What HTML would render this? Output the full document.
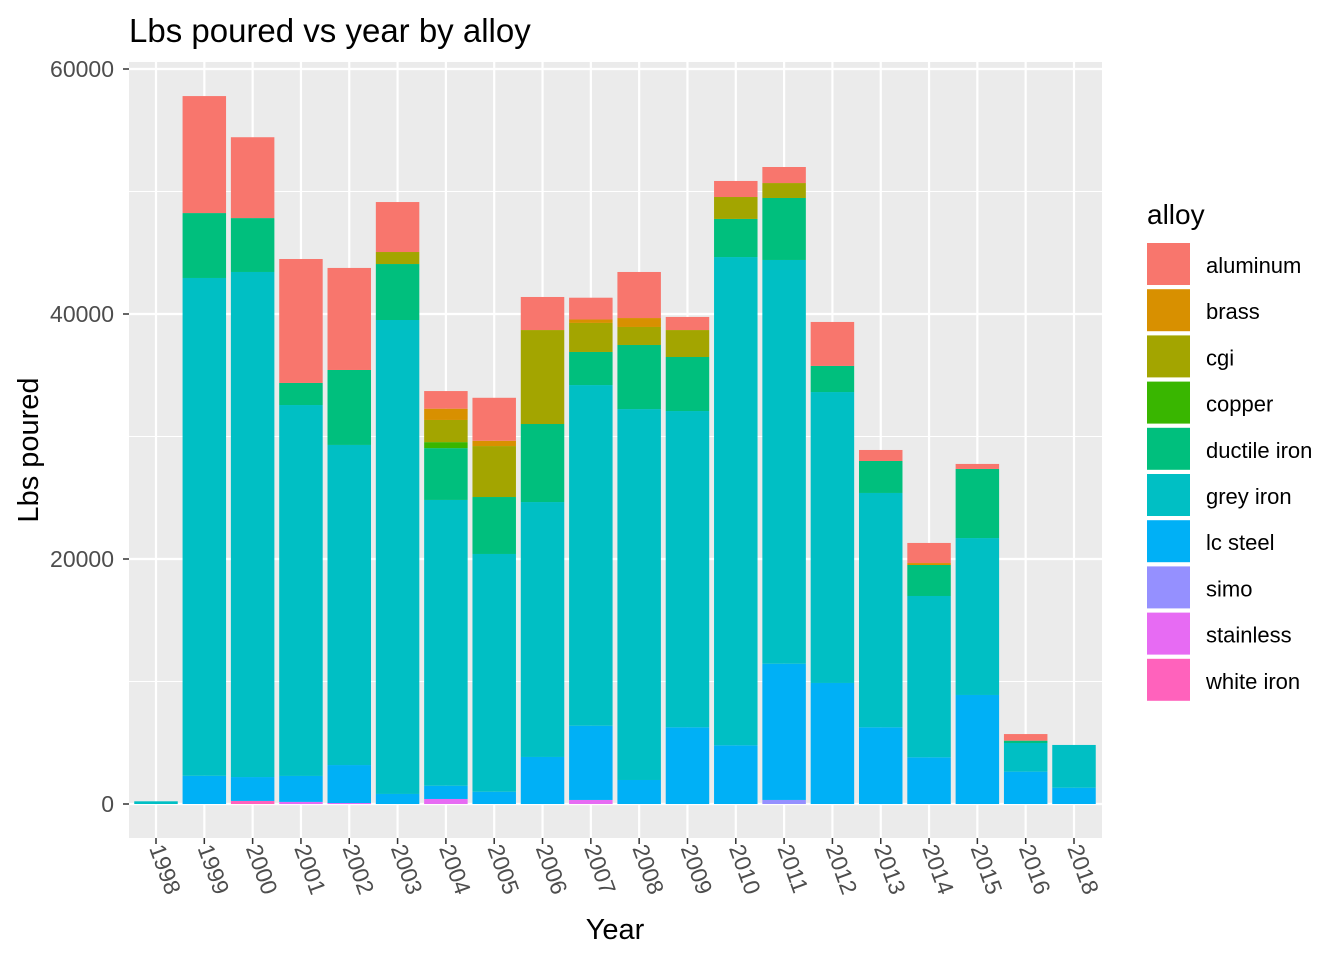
<!DOCTYPE html>
<html><head><meta charset="utf-8"><style>
html,body{margin:0;padding:0;background:#fff;}
svg{display:block;font-family:"Liberation Sans",Arial,sans-serif;}
</style></head><body>
<svg id="chart" width="1344" height="960"></svg>
<script>
const years = ["1998","1999","2000","2001","2002","2003","2004","2005","2006","2007","2008","2009","2010","2011","2012","2013","2014","2015","2016","2018"];
const alloys = ["aluminum","brass","cgi","copper","ductile iron","grey iron","lc steel","simo","stainless","white iron"];
const colors = ["#F8766D","#D89000","#A3A500","#39B600","#00BF7D","#00BFC4","#00B0F6","#9590FF","#E76BF3","#FF62BC"];
const aluminum   = [0,9550,6600,10120,8330,4080,1440,3510,2700,1780,3760,1070,1310,1310,3590,900,1640,410,540,0];
const brass      = [0,0,0,0,0,0,920,430,0,280,730,0,0,0,0,0,160,0,0,0];
const cgi        = [0,0,0,0,0,980,1810,4160,7670,2370,1470,2200,1790,1220,0,0,0,0,0,0];
const copper     = [0,0,0,0,0,0,490,0,0,0,0,0,0,0,0,0,0,0,0,0];
const ductile    = [0,5300,4400,1800,6120,4570,4230,4650,6370,2700,5230,4410,3110,5060,2130,2610,2530,5640,190,0];
const greyIron   = [220,40640,41230,30280,26130,38690,23330,19410,20810,27810,30280,25820,39860,32960,23750,19130,13170,12810,2340,3490];
const lcSteel    = [0,2300,1950,2120,3100,820,1080,1000,3840,6060,1960,6260,4790,11120,9880,6260,3810,8900,2640,1330];
const simo       = [0,0,0,0,0,0,0,0,0,0,0,0,0,330,0,0,0,0,0,0];
const stainless  = [0,0,0,170,80,0,410,0,0,330,0,0,0,0,0,0,0,0,0,0];
const whiteIron  = [0,0,250,0,0,0,0,0,0,0,0,0,0,0,0,0,0,0,0,0];
const yTicks = [0,20000,40000,60000];
const yMinor = [10000,30000,50000];

const series=[aluminum,brass,cgi,copper,ductile,greyIron,lcSteel,simo,stainless,whiteIron];
const NS="http://www.w3.org/2000/svg";
const svg=document.getElementById('chart');
const P={l:129,r:1102,t:62,b:838};
const y0=804, yPer=245/20000;
const yS=v=>y0-v*yPer;
const step=(1074-156)/(years.length-1);
const xS=i=>156+step*i;
const bw=step*0.9;
function el(t,a,txt){const e=document.createElementNS(NS,t);for(const k in a)e.setAttribute(k,a[k]);if(txt!==undefined)e.textContent=txt;svg.appendChild(e);return e;}

let e=el('rect',{x:P.l,y:P.t,width:P.r-P.l,height:P.b-P.t,fill:'#EBEBEB'});


yMinor.forEach(v=>{const g=el('line',{x1:P.l,x2:P.r,y1:yS(v),y2:yS(v),stroke:'#fff','stroke-width':1});

});
yTicks.forEach(v=>{const g=el('line',{x1:P.l,x2:P.r,y1:yS(v),y2:yS(v),stroke:'#fff','stroke-width':2.2});


const t=el('text',{x:114,y:yS(v)+8,'text-anchor':'end','font-size':23,fill:'#4D4D4D'},String(v));


const tk=el('line',{x1:123,x2:129,y1:yS(v),y2:yS(v),stroke:'#333','stroke-width':1.5});

});
years.forEach((yr,i)=>{const x=xS(i);
const g=el('line',{x1:x,x2:x,y1:P.t,y2:P.b,stroke:'#fff','stroke-width':2.2});


const tk=el('line',{x1:x,x2:x,y1:P.b,y2:P.b+6,stroke:'#333','stroke-width':1.5});


const t=el('text',{x:0,y:0,'font-size':23,fill:'#4D4D4D',transform:`translate(${x-7},${P.b+10}) rotate(70)`},yr);


let cum=0;
for(let s=series.length-1;s>=0;s--){const v=series[s][i];if(!v)continue;
const r=el('rect',{x:x-bw/2,y:yS(cum+v),width:bw,height:v*yPer,fill:colors[s]});


cum+=v;}
});
let t=el('text',{x:129,y:42,'font-size':33,fill:'#000'},'Lbs poured vs year by alloy');


t=el('text',{x:615,y:939,'text-anchor':'middle','font-size':29,fill:'#000'},'Year');


t=el('text',{x:0,y:0,'text-anchor':'middle','font-size':29,fill:'#000',transform:'translate(38,450) rotate(-90)'},'Lbs poured');


t=el('text',{x:1147,y:224,'font-size':28,fill:'#000'},'alloy');


alloys.forEach((a,i)=>{const ky=243+i*46.2;
const k=el('rect',{x:1147,y:ky,width:43,height:42,fill:colors[i]});


const l=el('text',{x:1206,y:ky+30,'font-size':22,fill:'#000'},a);

});
</script>
</body></html>
